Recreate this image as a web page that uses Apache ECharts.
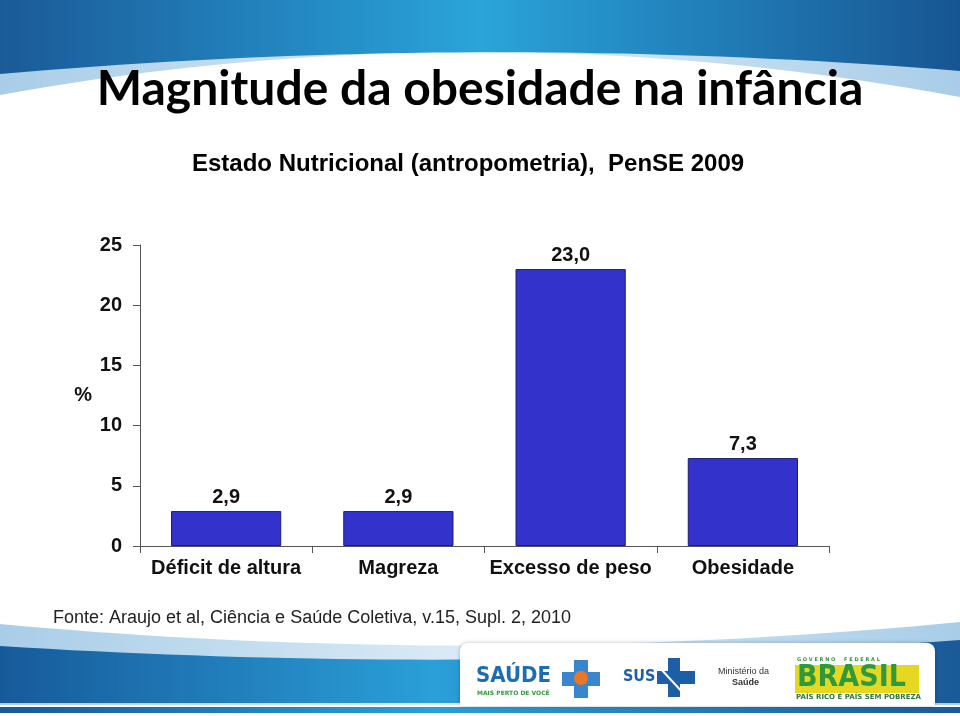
<!DOCTYPE html>
<html>
<head>
<meta charset="utf-8">
<script src="https://cdn.jsdelivr.net/npm/echarts@6/dist/echarts.min.js"></script>
<style>
html,body{margin:0;padding:0;background:#fff;}
#chart{width:960px;height:716px;}
</style>
</head>
<body>
<div id="chart"></div>
<script>
const categories = ['Déficit de altura', 'Magreza', 'Excesso de peso', 'Obesidade'];
const values = [2.9, 2.9, 23.0, 7.3];
const yTicks = [0, 5, 10, 15, 20, 25];

const titleText = 'Magnitude da obesidade na infância';
const subtitleText = 'Estado Nutricional (antropometria),  PenSE 2009';
const sourceText = 'Fonte: Araujo et al, Ciência e Saúde Coletiva, v.15, Supl. 2, 2010';

const chart = echarts.init(document.getElementById('chart'), null, {renderer: 'canvas'});

function hgrad(stops) {
  return {type: 'linear', x: 0, y: 0, x2: 1, y2: 0, global: false,
    colorStops: stops.map(s => ({offset: s[0], color: s[1]}))};
}
// sample a quadratic curve for decorative shapes
function quad(p0, c, p1, n) {
  const pts = [];
  for (let i = 0; i <= n; i++) {
    const t = i / n, u = 1 - t;
    pts.push([u * u * p0[0] + 2 * u * t * c[0] + t * t * p1[0],
              u * u * p0[1] + 2 * u * t * c[1] + t * t * p1[1]]);
  }
  return pts;
}
const blueGrad = hgrad([[0, '#1a5a98'], [0.5, '#2aa4da'], [1, '#175592']]);
const lightGrad = hgrad([[0, '#a9cde8'], [0.5, '#dcecf7'], [1, '#a9cde8']]);
const footBlue = hgrad([[0, '#175a9a'], [0.45, '#2a9fd8'], [1, '#1a5a98']]);

const headLight = quad([0, 58], [480, 20], [960, 58], 40).concat(quad([960, 97], [480, 8], [0, 95], 40));
const headBlue = [[0, 0], [960, 0]].concat(quad([960, 71], [480, 32], [0, 74], 40));
const footLight = quad([0, 624], [480, 668], [960, 622], 40).concat([[960, 705], [0, 705]]);
const footBand = quad([0, 646], [480, 676], [960, 640], 40).concat([[960, 703], [0, 703]]);

const FONT = 'Liberation Sans, Arial, sans-serif';

const option = {
  backgroundColor: '#ffffff',
  animation: false,
  grid: {left: 140, right: 131, top: 245, bottom: 170, containLabel: false},
  xAxis: {
    type: 'category',
    data: categories,
    axisLine: {lineStyle: {color: '#555', width: 1}},
    axisTick: {show: true, interval: 0, length: 7, lineStyle: {color: '#555'}},
    axisLabel: {
      interval: 0,
      color: '#111', fontSize: 20, fontWeight: 'bold',
      fontFamily: FONT, margin: 12
    }
  },
  yAxis: {
    type: 'value',
    min: yTicks[0], max: yTicks[yTicks.length - 1], interval: 5,
    name: '%', nameLocation: 'middle', nameRotate: 0, nameGap: 48,
    nameTextStyle: {color: '#111', fontSize: 20, fontWeight: 'bold', fontFamily: FONT, padding: [6, 0, 0, 0]},
    axisLine: {show: true, lineStyle: {color: '#555', width: 1}},
    axisTick: {show: true, length: 7, lineStyle: {color: '#555'}},
    splitLine: {show: false},
    axisLabel: {
      color: '#111', fontSize: 20, fontWeight: 'bold',
      fontFamily: FONT, margin: 18
    }
  },
  series: [{
    type: 'bar',
    data: values,
    barWidth: '64%',
    itemStyle: {color: '#3333cc', borderColor: '#1d1d70', borderWidth: 1},
    label: {
      show: true, position: 'top', distance: 4,
      color: '#111', fontSize: 20, fontWeight: 'bold',
      fontFamily: FONT,
      formatter: p => p.value.toFixed(1).replace('.', ',')
    }
  }],
  graphic: [
    {type: 'polygon', z: -10, shape: {points: headLight}, style: {fill: lightGrad}},
    {type: 'polygon', z: -9, shape: {points: headBlue}, style: {fill: blueGrad}},
    {type: 'text', left: 'center', top: 66, style: {
      text: titleText, fill: '#000', font: 'bold 48px Lato, "Liberation Sans Narrow", sans-serif'
    }},
    {type: 'text', left: 192, top: 152, style: {
      text: subtitleText, fill: '#000', font: 'bold 24px "Liberation Sans", Arial, sans-serif'
    }},
    {type: 'polygon', z: -10, shape: {points: footLight}, style: {fill: lightGrad}},
    {type: 'polygon', z: -9, shape: {points: footBand}, style: {fill: footBlue}},
    {type: 'rect', z: -8, shape: {x: 0, y: 707, width: 960, height: 6}, style: {fill: footBlue}},
    {type: 'rect', z: -7, shape: {x: 460, y: 643, width: 475, height: 63, r: [8, 8, 0, 0]},
      style: {fill: '#ffffff', shadowBlur: 4, shadowColor: 'rgba(0,0,0,0.25)'}},
    {type: 'text', left: 53, top: 609, style: {
      text: sourceText, fill: '#222', font: '18px "Liberation Sans", Arial, sans-serif'
    }},
    {type: 'text', left: 476, top: 665, style: {text: 'SAÚDE', fill: '#1d6db4', font: '900 22px "DejaVu Sans Condensed", "DejaVu Sans", sans-serif'}},
    {type: 'text', left: 477, top: 690, style: {text: 'MAIS PERTO DE VOCÊ', fill: '#2e9a3a', font: 'bold 6px "DejaVu Sans", sans-serif'}},
    {type: 'polygon', shape: {points: [[574,660],[588,660],[588,672],[600,672],[600,686],[588,686],[588,698],[574,698],[574,686],[562,686],[562,672],[574,672]]}, style: {fill: '#3a86cc'}},
    {type: 'circle', shape: {cx: 581, cy: 678, r: 7}, style: {fill: '#e8772a'}},
    {type: 'text', left: 623, top: 669, style: {text: 'SUS', fill: '#1d5fa6', font: 'bold 16px "DejaVu Sans Condensed", sans-serif'}},
    {type: 'polygon', shape: {points: [[668,658],[680,658],[680,671],[695,671],[695,684],[680,684],[680,697],[668,697],[668,684],[657,684],[657,671],[668,671]]}, style: {fill: '#1d5fa6'}},
    {type: 'line', shape: {x1: 660, y1: 668, x2: 684, y2: 694}, style: {stroke: '#fff', lineWidth: 2}},
    {type: 'text', left: 718, top: 667, style: {text: 'Ministério da', fill: '#333', font: '9px "Liberation Sans", Arial, sans-serif'}},
    {type: 'text', left: 732, top: 678, style: {text: 'Saúde', fill: '#333', font: 'bold 9px "Liberation Sans", Arial, sans-serif'}},
    {type: 'rect', shape: {x: 795, y: 665, width: 124, height: 28}, style: {fill: '#e6d820'}},
    {type: 'text', left: 797, top: 663, style: {text: 'BRASIL', fill: '#2f9a3c', font: '900 30px "DejaVu Sans Condensed", sans-serif'}},
    {type: 'text', left: 797, top: 657, style: {text: 'G O V E R N O     F E D E R A L', fill: '#2f9a3c', font: 'bold 5px "DejaVu Sans", sans-serif'}},
    {type: 'text', left: 796, top: 694, style: {text: 'PAÍS RICO É PAÍS SEM POBREZA', fill: '#2a7a3a', font: 'bold 7px "DejaVu Sans", sans-serif'}}
  ]
};
chart.setOption(option);
</script>
</body>
</html>
